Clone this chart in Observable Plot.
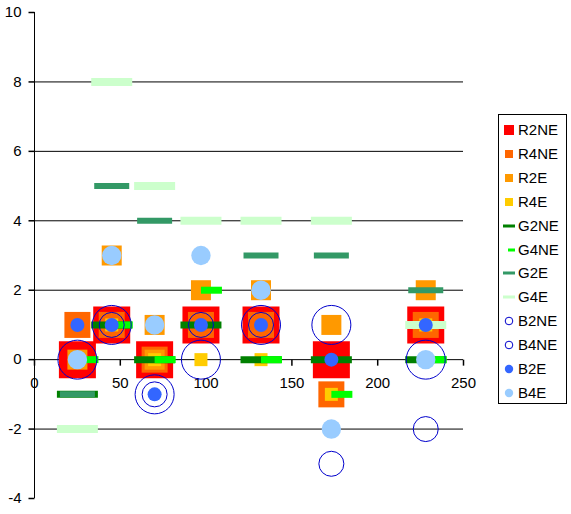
<!DOCTYPE html>
<html><head><meta charset="utf-8">
<script src="https://cdn.jsdelivr.net/npm/d3@7"></script>
<script src="https://cdn.jsdelivr.net/npm/@observablehq/plot@0.6"></script>
<style>
body{margin:0;background:#fff;}
#wrap{position:relative;width:571px;height:514px;font-family:"Liberation Sans",Arial,sans-serif;}
#legend{position:absolute;left:498px;top:114px;width:69px;height:290px;border:1px solid #000;background:#fff;box-sizing:border-box;}
.item{position:absolute;left:0;height:20px;font-size:15px;line-height:20px;color:#000;white-space:nowrap;}
.item svg{position:absolute;left:0;top:0;}
.item span{position:absolute;left:19px;top:0;}
</style></head><body><div id="wrap"></div>
<script>
// ---- data ----
const xs = [25, 45, 70, 97, 132, 173, 228];
const seriesNames = ["R2NE","R4NE","R2E","R4E","G2NE","G4NE","G2E","G4E","B2NE","B4NE","B2E","B4E"];
const R2NE = [0, 1, 0, 1, 1, 0, 1];
const R4NE = [1, 1, 0, 1, 1, -1, 1];
const R2E  = [0, 3, [1, 0], 2, 2, 1, 2];
const R4E  = [0, 1, 0, 0, 0, -1, 1];
const G2NE = [-1, 1, 0, 1, 0, 0, 0];
const G4NE = [0, 1, 0, 2, 0, -1, 0];
const G2E  = [-1, 5, 4, 4, 3, 3, 2];
const G4E  = [-2, 8, 5, 4, 4, 4, 1];
const B2NE = [0, 1, -1, 0, 1, 1, 0];
const B4NE = [null, 1, -1, 1, 1, -3, -2];
const B2E  = [1, 1, -1, 1, 1, 0, 1];
const B4E  = [0, 3, 1, 3, 2, -2, 0];
const yTicks = [-4, -2, 0, 2, 4, 6, 8, 10];
const gridY = [-2, 2, 4, 6, 8];
const xTicks = [0, 50, 100, 150, 200, 250];

const seriesValues = {R2NE,R4NE,R2E,R4E,G2NE,G4NE,G2E,G4E,B2NE,B4NE,B2E,B4E};

// ---- styles ----
const rectSym = (x0, y0, w, h) => ({draw(ctx){ ctx.rect(x0, y0, w, h); }});
const sq = s => rectSym(-s/2, -s/2, s, s);
const styles = {
  R2NE: {type:"sym", sym: sq(37), fill:"#FF0000", leg:{t:"sq", s:10}},
  R4NE: {type:"sym", sym: sq(26), fill:"#FF6600", leg:{t:"sq", s:8}},
  R2E:  {type:"sym", sym: sq(20), fill:"#FF9900", leg:{t:"sq", s:8}},
  R4E:  {type:"sym", sym: sq(13), fill:"#FFCC00", leg:{t:"sq", s:8}},
  G2NE: {type:"sym", sym: rectSym(-20.5, -3.5, 41, 7), fill:"#008000", leg:{t:"dash", x0:-6, w:12}},
  G4NE: {type:"sym", sym: rectSym(0, -3.5, 21, 7), fill:"#00FF00", leg:{t:"dash", x0:-1, w:7}},
  G2E:  {type:"sym", sym: rectSym(-17.5, -3, 35, 6), fill:"#339966", leg:{t:"dash", x0:-6, w:12}},
  G4E:  {type:"sym", sym: rectSym(-20.5, -4, 41, 8), fill:"#CCFFCC", leg:{t:"dash", x0:-6, w:12}},
  B2NE: {type:"ring", r:19.5, stroke:"#0000CC", leg:{t:"ring", r:3.8}},
  B4NE: {type:"ring", r:12.5, stroke:"#0000CC", leg:{t:"ring", r:3.8}},
  B2E:  {type:"disc", r:7, fill:"#3366FF", leg:{t:"disc", r:4.2}},
  B4E:  {type:"disc", r:9.7, fill:"#99CCFF", leg:{t:"disc", r:4.2}}
};

// ---- build rows ----
function rowsOf(name){
  const out = [];
  seriesValues[name].forEach((v, i) => {
    [].concat(v).forEach(y => { if (y != null) out.push({x: xs[i], y, s: name}); });
  });
  return out;
}

const seriesMarks = seriesNames.map(name => {
  const st = styles[name], data = rowsOf(name);
  if (st.type === "sym") return Plot.dot(data, {x:"x", y:"y", symbol: st.sym, fill: st.fill, stroke:"none"});
  if (st.type === "ring") return Plot.dot(data, {x:"x", y:"y", r: st.r, fill:"none", stroke: st.stroke, strokeWidth: 1});
  return Plot.dot(data, {x:"x", y:"y", r: st.r, fill: st.fill, stroke:"none"});
});

const vTick = {draw(ctx){ ctx.moveTo(0, 0); ctx.lineTo(0, 6); }};
const hTick = {draw(ctx){ ctx.moveTo(0, 0); ctx.lineTo(-6, 0); }};

const chart = Plot.plot({
  width: 571, height: 514,
  marginLeft: 34, marginRight: 108, marginTop: 12, marginBottom: 16,
  x: {domain: [0, 250], axis: null},
  y: {domain: [-4, 10], axis: null},
  style: {fontFamily: '"Liberation Sans", Arial, sans-serif', fontSize: "15px", background: "white", color: "black"},
  marks: [
    Plot.ruleY(gridY, {stroke: "black", strokeWidth: 1}),
    Plot.ruleY([0], {stroke: "black", strokeWidth: 1}),
    Plot.ruleX([0], {stroke: "black", strokeWidth: 1}),
    Plot.dot(yTicks, {x: () => 0, y: d => d, symbol: hTick, stroke: "black", fill: "none"}),
    Plot.dot(xTicks, {x: d => d, y: () => 0, symbol: vTick, stroke: "black", fill: "none"}),
    Plot.text(yTicks, {x: () => 0, y: d => d, text: d => String(d), textAnchor: "end", dx: -13, fontSize: 15, fill: "black"}),
    Plot.text(xTicks, {x: d => d, y: () => 0, text: d => String(d), dy: 24, fontSize: 15, fill: "black"}),
    ...seriesMarks
  ]
});
const wrap = document.getElementById("wrap");
wrap.appendChild(chart);

// ---- legend ----
const leg = d3.select(wrap).append("div").attr("id", "legend");
seriesNames.forEach((name, i) => {
  const st = styles[name], L = st.leg;
  const item = leg.append("div").attr("class", "item").style("top", (16 + i * 23.9 - 10 - 1) + "px").style("width", "66px");
  const svg = item.append("svg").attr("width", 18).attr("height", 20);
  const g = svg.append("g").attr("transform", "translate(10,10)");
  if (L.t === "sq") g.append("rect").attr("x", -L.s/2).attr("y", -L.s/2).attr("width", L.s).attr("height", L.s).attr("fill", st.fill);
  else if (L.t === "dash") g.append("rect").attr("x", L.x0).attr("y", -1.5).attr("width", L.w).attr("height", 3).attr("fill", st.fill);
  else if (L.t === "ring") g.append("circle").attr("r", L.r).attr("fill", "none").attr("stroke", st.stroke);
  else g.append("circle").attr("r", L.r).attr("fill", st.fill);
  item.append("span").text(name);
});
</script>
</body></html>
